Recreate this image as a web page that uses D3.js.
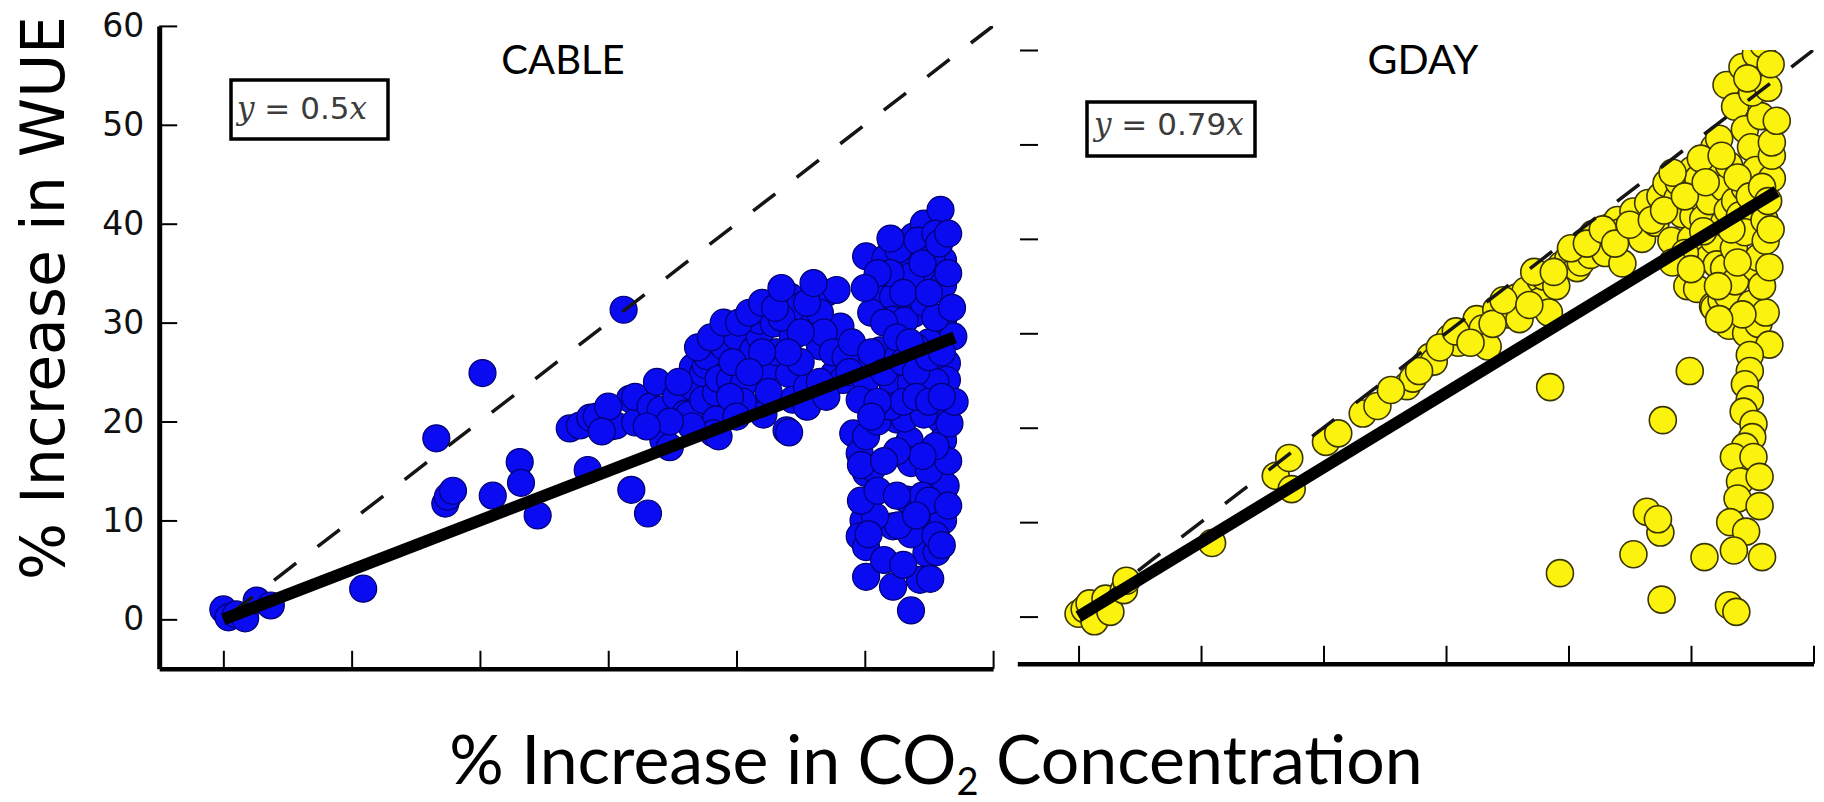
<!DOCTYPE html>
<html>
<head>
<meta charset="utf-8">
<script src="https://cdn.jsdelivr.net/npm/d3@7"></script>
<style>
  html, body { margin: 0; padding: 0; background: #ffffff; }
  svg { display: block; }
</style>
</head>
<body>
<svg id="chart" width="1824" height="802"></svg>
<script>
// ---- data -------------------------------------------------------------
const panelNames = ["CABLE", "GDAY"];
const fitSlopes = [0.5, 0.79];
const axisDomain = [-5, 60];
const xTickValues = [0, 10, 20, 30, 40, 50, 60];
const yTickValues = [0, 10, 20, 30, 40, 50, 60];
const xAxisTitle = ["% Increase in CO", "2", " Concentration"];
const yAxisTitle = "% Increase in WUE";

// CABLE: [% increase in CO2, % increase in WUE]
const cablePoints = [
  [0.0, 1.0], [0.4, 0.2], [1.0, 0.5], [1.7, 0.1], [2.6, 1.9], [3.7, 1.4],
  [10.9, 3.1],
  [16.6, 18.3], [17.3, 11.7], [17.5, 12.4], [17.9, 13.0],
  [20.2, 24.9], [21.0, 12.5],
  [23.1, 15.9], [23.2, 13.8], [24.5, 10.5],
  [27.0, 19.3], [27.8, 19.6], [28.6, 20.4], [29.1, 20.5], [30.2, 19.5], [30.6, 19.6],
  [31.7, 22.3], [32.1, 19.9], [32.1, 22.5], [33.3, 21.5], [33.8, 24.0], [34.1, 21.2],
  [35.3, 22.5], [36.0, 20.8], [36.3, 20.7], [36.6, 23.5], [36.6, 25.5], [37.4, 22.2],
  [37.4, 24.9], [37.6, 25.7], [37.7, 26.6], [38.4, 22.9], [38.4, 20.2], [38.2, 18.8],
  [38.6, 24.3], [39.0, 27.6], [39.5, 24.2], [39.5, 29.6], [40.0, 28.6], [40.6, 23.9],
  [40.8, 25.9], [41.3, 27.2], [41.8, 28.6], [41.8, 21.2], [41.8, 30.2], [42.1, 20.7],
  [42.3, 25.2], [42.9, 29.9], [43.1, 27.0], [43.9, 19.1], [44.1, 24.8], [44.2, 32.6],
  [44.4, 28.6], [44.4, 22.2], [44.9, 31.6], [45.5, 23.5], [46.0, 29.9], [46.5, 27.6],
  [47.0, 33.0], [47.6, 24.8], [47.8, 33.3], [48.1, 29.6], [48.3, 24.2], [49.6, 25.7],
  [28.4, 15.1], [31.8, 13.1], [33.1, 10.7], [34.3, 18.1], [34.8, 17.4], [38.6, 18.5],
  [44.1, 18.9], [31.2, 31.3],
  [39.7, 26.0], [42.5, 23.0], [45.0, 26.0], [46.5, 31.0], [40.5, 22.0], [43.5, 30.5],
  [35.5, 24.0], [37.0, 27.5], [38.0, 28.5], [39.0, 30.0], [40.2, 30.0], [41.0, 31.0],
  [42.0, 32.0], [43.0, 31.5], [43.5, 33.5], [45.5, 32.0], [46.0, 34.0], [46.8, 29.0],
  [47.5, 27.0], [48.5, 26.5], [49.0, 28.0], [45.0, 29.0], [44.0, 27.0], [42.0, 27.0],
  [41.0, 25.0], [39.5, 22.5], [40.0, 20.5], [45.5, 21.5], [46.5, 24.0], [47.0, 22.5],
  [48.8, 25.0], [36.5, 19.5], [34.8, 20.0], [33.0, 19.5], [30.0, 21.5], [29.5, 19.0],
  [50.1, 36.7], [50.9, 34.3], [51.6, 36.5], [51.1, 32.9], [52.2, 32.6], [53.3, 36.3],
  [53.8, 38.7], [54.6, 40.0], [55.9, 41.4], [56.1, 36.3], [54.8, 34.0], [52.2, 30.3],
  [51.2, 27.2], [53.8, 30.9], [56.1, 30.3], [56.9, 28.6], [56.4, 25.9], [56.4, 24.2],
  [53.5, 24.2], [52.2, 23.5], [50.1, 24.2], [49.6, 22.2], [49.1, 18.8], [49.6, 16.8],
  [50.1, 14.8], [52.5, 20.2], [53.5, 18.1], [55.9, 20.2], [56.1, 18.1], [53.5, 16.1],
  [56.1, 13.4], [53.3, 12.1], [49.9, 10.0], [49.6, 8.4], [52.2, 9.4], [54.8, 9.4],
  [56.1, 10.0], [54.8, 6.7], [54.3, 4.0], [50.1, 4.3], [52.2, 3.3], [53.6, 0.9],
  [50.1, 7.3], [53.1, 20.3], [54.6, 20.7], [53.6, 23.9], [52.6, 26.6], [53.1, 30.2],
  [54.6, 32.0], [53.6, 34.7], [52.6, 37.4], [54.1, 38.3], [56.1, 33.8], [56.6, 19.8],
  [56.3, 13.5], [55.6, 6.8], [55.1, 4.1], [53.6, 8.6], [52.6, 9.5], [53.6, 15.8],
  [50.6, 15.3], [50.8, 10.4], [50.3, 8.6], [50.1, 18.5], [49.7, 12.0], [49.7, 15.6],
  [55.0, 28.0], [55.5, 24.0], [54.0, 27.5], [55.2, 36.5], [52.0, 35.0], [55.0, 15.0],
  [54.5, 12.5], [51.0, 20.0], [57.0, 22.0], [55.5, 30.5], [50.5, 27.0], [51.5, 25.0],
  [50.5, 31.0], [51.5, 30.0], [52.5, 28.5], [53.0, 26.0], [54.0, 25.0], [55.0, 26.5],
  [56.0, 27.0], [56.8, 31.5], [56.5, 35.0], [55.5, 39.0], [53.0, 33.0], [51.0, 35.0],
  [54.5, 36.0], [55.0, 33.0], [52.0, 21.5], [53.0, 22.0], [54.0, 22.5], [55.0, 22.0],
  [56.0, 22.5], [56.5, 16.0], [55.5, 17.5], [54.5, 16.5], [52.5, 17.0], [51.5, 16.0],
  [51.0, 13.0], [52.5, 12.5], [55.0, 12.0], [56.5, 11.5], [54.0, 10.5], [55.5, 8.5],
  [51.5, 6.0], [56.0, 7.5], [53.0, 5.5], [51.0, 22.0], [50.5, 20.5], [55.8, 38.0],
  [56.5, 39.0], [53.5, 28.0], [50.0, 33.5], [52.0, 38.5]
];

// GDAY: [% increase in CO2, % increase in WUE]
const gdayPoints = [
  [0.0, 0.3], [0.5, 0.8], [0.9, 1.4], [1.3, -0.5], [2.2, 1.9], [2.6, 0.5], [3.7, 2.8], [3.9, 3.8],
  [10.9, 7.8],
  [16.1, 14.9], [17.2, 16.8], [17.4, 13.5],
  [20.2, 18.5], [21.2, 19.4], [23.2, 21.5], [24.4, 22.3],
  [26.8, 24.4], [27.3, 25.2], [28.3, 26.7], [28.7, 27.5], [29.0, 27.0],
  [30.3, 29.5], [31.0, 29.0], [31.9, 30.0], [32.5, 31.5], [33.0, 30.5], [33.4, 28.6],
  [34.1, 32.5], [35.0, 32.0], [35.8, 33.8], [36.0, 31.5], [36.5, 34.5], [37.7, 35.7],
  [37.7, 33.4], [38.0, 36.0], [38.4, 32.2], [39.0, 35.0], [39.4, 37.2], [40.0, 38.0],
  [40.7, 36.9], [41.0, 37.5], [41.8, 38.3], [42.0, 40.5], [42.6, 39.6], [43.0, 38.5],
  [43.3, 41.2], [44.0, 42.0], [44.2, 40.7], [44.4, 37.4], [45.3, 42.9], [45.9, 40.7],
  [46.0, 40.0], [46.5, 43.8], [47.1, 41.7], [47.5, 44.5], [48.0, 45.9], [48.4, 39.8],
  [48.9, 44.3], [49.0, 46.0], [49.3, 42.6], [49.7, 35.0], [50.0, 40.0], [50.1, 47.3],
  [50.2, 42.4], [50.5, 34.7], [50.6, 44.5], [50.6, 46.4], [50.6, 38.8], [51.0, 42.1],
  [51.4, 37.9], [51.5, 44.0], [51.8, 32.9], [51.9, 49.7], [51.9, 39.8], [51.9, 32.7],
  [52.0, 47.5], [52.1, 37.3], [52.3, 50.6], [52.5, 33.5], [52.7, 45.4], [52.7, 41.7],
  [52.7, 36.9], [52.9, 56.3], [53.0, 43.0], [53.0, 34.0], [53.1, 47.8], [53.1, 30.8],
  [53.5, 39.0], [53.6, 54.0], [53.6, 44.0], [53.6, 35.5], [54.0, 42.5], [54.2, 58.2],
  [54.4, 45.4], [54.4, 51.6], [54.4, 40.7], [54.5, 30.0], [54.9, 49.7], [54.9, 33.1],
  [55.3, 59.6], [55.3, 47.3], [55.3, 36.9], [55.5, 44.0], [55.5, 38.0], [55.5, 31.0],
  [55.7, 53.0], [56.0, 42.0], [56.1, 32.2], [56.1, 39.8], [56.6, 46.4], [56.6, 48.8],
  [56.6, 50.2], [57.0, 52.5], [55.9, 60.6],
  [25.5, 24.0], [27.8, 26.0], [29.5, 28.5], [30.8, 30.2], [32.0, 29.0], [33.8, 31.0],
  [34.7, 33.5], [36.8, 33.0], [37.2, 36.5], [38.8, 36.5], [40.2, 39.0], [41.5, 39.5],
  [42.8, 41.0], [43.8, 39.5], [45.0, 41.5], [46.8, 42.0], [47.8, 43.0], [48.5, 47.0],
  [49.5, 44.5], [50.8, 48.5], [51.2, 46.0], [52.5, 48.8], [53.8, 46.5], [54.8, 44.5],
  [55.8, 45.5], [56.3, 44.0], [53.3, 41.0], [51.0, 40.8], [49.5, 38.5], [48.5, 37.5],
  [50.0, 36.8], [52.2, 35.0], [53.8, 37.5], [55.8, 35.0], [56.4, 37.0], [54.2, 32.0],
  [52.3, 31.5], [56.5, 41.0], [55.0, 55.5], [56.3, 56.0], [54.6, 57.0], [56.5, 58.5],
  [56.4, 28.8], [54.8, 27.7], [54.8, 26.0], [54.4, 24.6], [54.8, 23.0], [54.3, 21.7],
  [55.1, 20.4], [55.0, 19.0], [54.4, 18.0], [53.5, 16.9], [55.1, 16.9], [54.0, 14.3],
  [55.6, 14.8], [53.8, 12.5], [55.6, 11.7], [53.2, 10.0], [54.5, 9.0], [53.5, 7.0],
  [55.8, 6.3], [53.1, 1.2], [53.7, 0.5],
  [51.1, 6.3], [49.9, 26.0], [47.7, 20.8], [38.5, 24.3], [39.3, 4.6], [45.3, 6.6],
  [46.4, 11.1], [47.5, 8.9], [47.3, 10.3], [47.6, 1.8]
];

// ---- layout and styles ------------------------------------------------
const panels = [
  { name: panelNames[0], points: cablePoints, slope: fitSlopes[0],
    xRange: [159.2, 993.1], yRange: [668.8, 25.9],
    yLabels: true, ySpine: true,
    fill: "#0b0bf2", stroke: "#00006e", strokeWidth: 1.2,
    title: { x: 563, y: 74, size: 40 },
    box: { x: 231, y: 80, w: 157, h: 59, tx: 237, ty: 119 } },
  { name: panelNames[1], points: gdayPoints, slope: fitSlopes[1],
    xRange: [1017.3, 1813.5], yRange: [663.8, 50.0],
    yLabels: false, ySpine: false,
    fill: "#fbf20e", stroke: "#3a3500", strokeWidth: 1.6,
    title: { x: 1423, y: 74, size: 41 },
    box: { x: 1087, y: 102, w: 168, h: 54, tx: 1094, ty: 135 } }
];
const pointRadius = 13.5;
const tickLen = 18;

const svg = d3.select("#chart");
const defs = svg.append("defs");

panels.forEach((p, i) => {
  const x = d3.scaleLinear().domain(axisDomain).range(p.xRange);
  const y = d3.scaleLinear().domain(axisDomain).range(p.yRange);
  const g = svg.append("g").attr("class", "panel panel-" + p.name);

  // clip to the plotting area
  const clipId = "clip-" + i;
  defs.append("clipPath").attr("id", clipId)
    .append("rect")
    .attr("x", p.xRange[0]).attr("y", p.yRange[1])
    .attr("width", p.xRange[1] - p.xRange[0])
    .attr("height", p.yRange[0] - p.yRange[1]);
  const plot = g.append("g").attr("clip-path", `url(#${clipId})`);

  // scatter points
  plot.selectAll("circle")
    .data(p.points)
    .join("circle")
    .attr("cx", d => x(d[0]))
    .attr("cy", d => y(d[1]))
    .attr("r", pointRadius)
    .attr("fill", p.fill)
    .attr("stroke", p.stroke)
    .attr("stroke-width", p.strokeWidth);

  // 1:1 reference line
  const line = d3.line().x(d => x(d[0])).y(d => y(d[1]));
  plot.append("path")
    .datum([[60, 60], [0, 0]])
    .attr("d", line)
    .attr("fill", "none")
    .attr("stroke", "#151515")
    .attr("stroke-width", 3.5)
    .attr("stroke-dasharray", "28,27");

  // regression through the origin
  const xExt = d3.extent(p.points, d => d[0]);
  const x0 = Math.max(0, xExt[0]);
  plot.append("path")
    .datum([[x0, p.slope * x0], [xExt[1], p.slope * xExt[1]]])
    .attr("d", line)
    .attr("fill", "none")
    .attr("stroke", "#000")
    .attr("stroke-width", 12);

  // bottom axis
  const xAxis = d3.axisBottom(x)
    .tickValues(xTickValues)
    .tickSizeInner(-tickLen)
    .tickSizeOuter(0)
    .tickFormat("");
  const gx = g.append("g")
    .attr("transform", `translate(0,${p.yRange[0]})`)
    .call(xAxis);
  gx.select(".domain").attr("stroke", "#000").attr("stroke-width", 4.5);
  gx.selectAll(".tick line").attr("stroke", "#000").attr("stroke-width", 2);

  // left axis
  const yAxis = d3.axisLeft(y)
    .tickValues(yTickValues)
    .tickSizeInner(-tickLen)
    .tickSizeOuter(0)
    .tickPadding(15)
    .tickFormat(p.yLabels ? d3.format("d") : "");
  const gy = g.append("g")
    .attr("transform", `translate(${p.xRange[0]},0)`)
    .call(yAxis);
  if (p.ySpine) {
    gy.select(".domain").attr("stroke", "#000").attr("stroke-width", 5);
  } else {
    gy.select(".domain").remove();
    gy.attr("transform", `translate(${p.xRange[0] + 2.7},0)`);
  }
  gy.selectAll(".tick line").attr("stroke", "#000").attr("stroke-width", 2);
  gy.selectAll(".tick text")
    .attr("font-family", "'DejaVu Sans', sans-serif")
    .attr("font-size", 33)
    .attr("fill", "#111");

  // panel title
  g.append("text")
    .attr("x", p.title.x).attr("y", p.title.y)
    .attr("text-anchor", "middle")
    .attr("font-family", "Lato, 'Open Sans', sans-serif")
    .attr("font-size", p.title.size)
    .attr("fill", "#000")
    .text(p.name);

  // fitted-equation box
  g.append("rect")
    .attr("x", p.box.x).attr("y", p.box.y)
    .attr("width", p.box.w).attr("height", p.box.h)
    .attr("fill", "#fff")
    .attr("stroke", "#000")
    .attr("stroke-width", 3.5);
  const eq = g.append("text")
    .attr("x", p.box.tx).attr("y", p.box.ty)
    .attr("font-size", 31)
    .attr("fill", "#3c3c3c");
  eq.append("tspan")
    .attr("font-family", "'DejaVu Serif', serif")
    .attr("font-style", "italic")
    .text("y");
  eq.append("tspan")
    .attr("font-family", "'DejaVu Sans', sans-serif")
    .text(" = " + p.slope);
  eq.append("tspan")
    .attr("font-family", "'DejaVu Serif', serif")
    .attr("font-style", "italic")
    .text("x");
});

// shared axis titles
svg.append("text")
  .attr("transform", "translate(64,298) rotate(-90)")
  .attr("text-anchor", "middle")
  .attr("font-family", "'DejaVu Sans', sans-serif")
  .attr("font-size", 60)
  .attr("fill", "#000")
  .text(yAxisTitle);

const xt = svg.append("text")
  .attr("x", 936).attr("y", 784)
  .attr("text-anchor", "middle")
  .attr("font-family", "Lato, 'Open Sans', sans-serif")
  .attr("font-size", 68)
  .attr("fill", "#000");
xt.append("tspan").text(xAxisTitle[0]);
xt.append("tspan").attr("font-size", 38).attr("dy", 11).text(xAxisTitle[1]);
xt.append("tspan").attr("dy", -11).text(xAxisTitle[2]);
</script>
</body>
</html>
